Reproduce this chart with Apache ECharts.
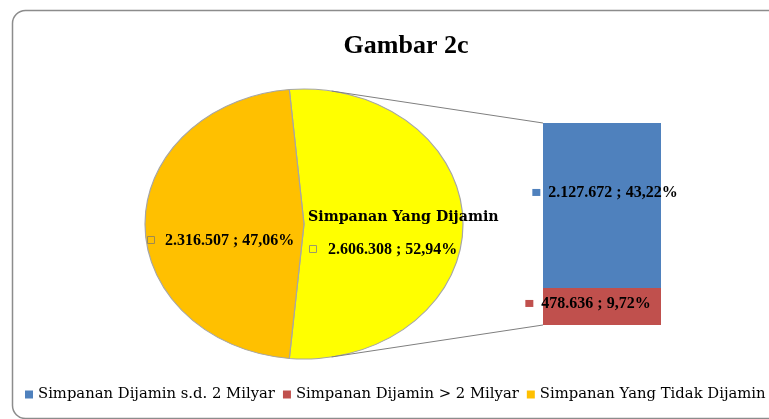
<!DOCTYPE html>
<html><head><meta charset="utf-8">
<script src="https://cdn.jsdelivr.net/npm/echarts@6/dist/echarts.min.js"></script>
<style>html,body{margin:0;padding:0;background:#fff}#c{width:769px;height:419px}</style>
</head><body><div id="c"></div>
<script>
// ---- data ----
const chartTitle = 'Gambar 2c';
const pieNames = ['Simpanan Yang Dijamin', 'Simpanan Yang Tidak Dijamin'];
const pieValues = [2606308, 2316507];
const barNames = ['Simpanan Dijamin s.d. 2 Milyar', 'Simpanan Dijamin > 2 Milyar'];
const barValues = [2127672, 478636];
const legendNames = ['Simpanan Dijamin s.d. 2 Milyar', 'Simpanan Dijamin > 2 Milyar', 'Simpanan Yang Tidak Dijamin'];

// ---- styles / layout ----
const pieColors = ['#FFFF00', '#FFC000'];
const barColors = ['#4F81BD', '#C0504D'];
const CX = 304, CY = 224, RX = 159, RY = 135;
const GRID = {left: 543, top: 123, width: 118, height: 202};
const numFont = 'bold 16px "Liberation Serif"';
const nameFont = 'bold 14.2px "DejaVu Serif"';

const total = pieValues.reduce((a, b) => a + b, 0);
const barTotal = barValues.reduce((a, b) => a + b, 0);
function fmtNum(v) { return String(v).replace(/\B(?=(\d{3})+(?!\d))/g, '.'); }
function fmtPct(v) { return (v / total * 100).toFixed(2).replace('.', ',') + '%'; }
function labelText(v) { return fmtNum(v) + ' ; ' + fmtPct(v); }

const frac0 = pieValues[0] / total;
const angles = [
  [-frac0 * Math.PI, frac0 * Math.PI],
  [frac0 * Math.PI, 2 * Math.PI - frac0 * Math.PI]
];

function sliceRender(i) {
  return function (params, api) {
    const v = api.value(0);
    const children = [{
      type: 'sector', x: CX, y: CY, scaleX: RX / RY, scaleY: 1,
      shape: {cx: 0, cy: 0, r: RY, r0: 0, startAngle: angles[i][0], endAngle: angles[i][1], clockwise: true},
      style: {fill: pieColors[i], stroke: '#a6a6a6', lineWidth: 1, strokeNoScale: true}
    }];
    if (i === 0) {
      children.push({type: 'text', x: CX + 4, y: CY - 7, style: {text: pieNames[0], font: nameFont, fill: '#000', align: 'left', verticalAlign: 'middle', textAlign: 'left', textVerticalAlign: 'middle'}});
      children.push({type: 'rect', shape: {x: CX + 5.5, y: CY + 21.5, width: 7, height: 7}, style: {fill: 'none', stroke: '#9a9a6a', lineWidth: 1}});
      children.push({type: 'text', x: CX + 24, y: CY + 26, style: {text: labelText(v), font: numFont, fill: '#000', align: 'left', verticalAlign: 'middle', textAlign: 'left', textVerticalAlign: 'middle'}});
    } else {
      children.push({type: 'rect', shape: {x: CX - 156.5, y: CY + 12.5, width: 7, height: 7}, style: {fill: 'none', stroke: '#a08a50', lineWidth: 1}});
      children.push({type: 'text', x: CX - 139, y: CY + 17, style: {text: labelText(v), font: numFont, fill: '#000', align: 'left', verticalAlign: 'middle', textAlign: 'left', textVerticalAlign: 'middle'}});
    }
    return {type: 'group', children: children};
  };
}

const th = 80 * Math.PI / 180;
const p1 = [CX + RX * Math.cos(th), CY - RY * Math.sin(th)];
const p2 = [CX + RX * Math.cos(th), CY + RY * Math.sin(th)];

const chart = echarts.init(document.getElementById('c'), null, {renderer: 'canvas'});
chart.setOption({
  animation: false,
  title: {text: chartTitle, left: 401, top: 28, textAlign: 'center',
    textStyle: {fontFamily: 'Liberation Serif', fontWeight: 'bold', fontSize: 26, color: '#000'}},
  legend: {
    data: legendNames, left: 25, top: 387, width: 1400, padding: 0, icon: 'rect', itemWidth: 8, itemHeight: 8, itemGap: 8,
    textStyle: {fontFamily: 'DejaVu Serif', fontSize: 14.8, color: '#000'}, selectedMode: false
  },
  grid: GRID,
  xAxis: {type: 'category', data: ['x'], show: false},
  yAxis: {type: 'value', min: 0, max: barTotal, show: false},
  graphic: [
    {type: 'rect', shape: {x: 12.5, y: 10.5, width: 800, height: 408, r: 13}, style: {fill: 'none', stroke: '#8c8c8c', lineWidth: 1.5}, z: -10},
    {type: 'line', shape: {x1: p1[0], y1: p1[1], x2: GRID.left, y2: GRID.top}, style: {stroke: '#7f7f7f', lineWidth: 1}, z: 10},
    {type: 'line', shape: {x1: p2[0], y1: p2[1], x2: GRID.left, y2: GRID.top + GRID.height}, style: {stroke: '#7f7f7f', lineWidth: 1}, z: 10}
  ],
  series: [
    {type: 'custom', name: pieNames[0], coordinateSystem: 'none', data: [[pieValues[0]]], itemStyle: {color: pieColors[0]}, renderItem: sliceRender(0)},
    {type: 'custom', name: pieNames[1], coordinateSystem: 'none', data: [[pieValues[1]]], itemStyle: {color: pieColors[1]}, renderItem: sliceRender(1)},
    {type: 'bar', name: barNames[1], stack: 's', barWidth: '100%', data: [barValues[1]], itemStyle: {color: barColors[1]},
      label: {show: true, position: 'inside', offset: [-14, -3], formatter: p => '{k|}  ' + labelText(p.value),
        rich: {k: {width: 8, height: 7, backgroundColor: barColors[1]}}, fontFamily: 'Liberation Serif', fontWeight: 'bold', fontSize: 16, color: '#000'}},
    {type: 'bar', name: barNames[0], stack: 's', barWidth: '100%', data: [barValues[0]], itemStyle: {color: barColors[0]},
      label: {show: true, position: 'inside', offset: [3, -13], formatter: p => '{k|}  ' + labelText(p.value),
        rich: {k: {width: 8, height: 7, backgroundColor: barColors[0]}}, fontFamily: 'Liberation Serif', fontWeight: 'bold', fontSize: 16, color: '#000'}}
  ]
});
</script></body></html>
